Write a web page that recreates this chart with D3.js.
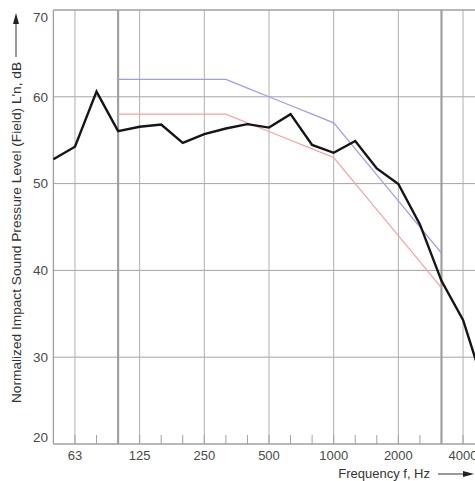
<!DOCTYPE html>
<html>
<head>
<meta charset="utf-8">
<script src="https://cdn.jsdelivr.net/npm/d3@7"></script>
<style>
  body { margin: 0; background: #fff; }
  text { font-family: "Liberation Sans", Arial, sans-serif; }
</style>
</head>
<body>
<div id="chart"></div>
<script>
// one-third octave bands
const bands = ["50","63","80","100","125","160","200","250","315","400","500","630","800",
               "1000","1250","1600","2000","2500","3150","4000","5000"];
// measured L'n values (black)
const measured = [52.8, 54.25, 60.6, 56.05, 56.55, 56.8, 54.7, 55.7, 56.35, 56.85, 56.45,
                  58.0, 54.45, 53.55, 54.9, 51.75, 49.95, 45.3, 38.8, 34.3, 26.5];
// reference curve bands (100..3150)
const refBands = ["100","125","160","200","250","315","400","500","630","800",
                  "1000","1250","1600","2000","2500","3150"];
const refBlue = [62, 62, 62, 62, 62, 62, 61, 60, 59, 58, 57, 54, 51, 48, 45, 42];
const refRed  = [58, 58, 58, 58, 58, 58, 57, 56, 55, 54, 53, 50, 47, 44, 41, 38];

const gridBands = ["63","100","125","250","500","1000","2000","3150","4000"];
const thickBands = ["100","3150"];
const xLabels = ["63","125","250","500","1000","2000","4000"];
const yTicks = [20, 30, 40, 50, 60, 70];

const width = 475, height = 481;
const plotLeft = 53.4, plotTop = 10, plotBottom = 444;

const svg = d3.select("#chart").append("svg")
  .attr("width", width)
  .attr("height", height);

const x = d3.scalePoint()
  .domain(bands)
  .range([plotLeft, plotLeft + 20 * 21.56]);

const y = d3.scaleLinear()
  .domain([20, 70])
  .range([plotBottom, plotTop]);

// horizontal grid
svg.append("g")
  .selectAll("line")
  .data(yTicks.filter(d => d > 20 && d < 70))
  .join("line")
    .attr("x1", plotLeft).attr("x2", width)
    .attr("y1", d => y(d)).attr("y2", d => y(d))
    .attr("stroke", "#a4a4a4")
    .attr("stroke-width", 1);

// vertical grid
svg.append("g")
  .selectAll("line")
  .data(gridBands)
  .join("line")
    .attr("x1", d => x(d)).attr("x2", d => x(d))
    .attr("y1", plotTop).attr("y2", plotBottom)
    .attr("stroke", d => thickBands.includes(d) ? "#a0a0a0" : "#b0b0b0")
    .attr("stroke-width", d => thickBands.includes(d) ? 2.2 : 1);

// minor ticks along bottom
svg.append("g")
  .selectAll("line")
  .data(bands.slice(1))
  .join("line")
    .attr("x1", d => x(d)).attr("x2", d => x(d))
    .attr("y1", plotBottom - 9).attr("y2", plotBottom)
    .attr("stroke", "#a0a0a0")
    .attr("stroke-width", 1);

// frame
svg.append("line")
  .attr("x1", plotLeft).attr("x2", width)
  .attr("y1", plotTop).attr("y2", plotTop)
  .attr("stroke", "#a0a0a0").attr("stroke-width", 1.3);
svg.append("line")
  .attr("x1", plotLeft).attr("x2", width)
  .attr("y1", plotBottom).attr("y2", plotBottom)
  .attr("stroke", "#a0a0a0").attr("stroke-width", 1.3);
svg.append("line")
  .attr("x1", plotLeft).attr("x2", plotLeft)
  .attr("y1", plotTop).attr("y2", plotBottom)
  .attr("stroke", "#a0a0a0").attr("stroke-width", 1.3);

// y tick labels (end labels nudged inside like the original)
svg.append("g")
  .selectAll("text")
  .data(yTicks)
  .join("text")
    .attr("x", 48)
    .attr("y", d => y(d) + (d === 70 ? 7 : d === 20 ? -7 : 0))
    .attr("dy", "0.35em")
    .attr("text-anchor", "end")
    .attr("font-size", 13.5)
    .attr("fill", "#4a4a4a")
    .text(d => d);

// x tick labels
svg.append("g")
  .selectAll("text")
  .data(xLabels)
  .join("text")
    .attr("x", d => x(d))
    .attr("y", 460)
    .attr("text-anchor", "middle")
    .attr("font-size", 13)
    .attr("fill", "#4a4a4a")
    .text(d => d);

const line = d3.line()
  .x(d => x(d[0]))
  .y(d => y(d[1]));

svg.append("path")
  .datum(d3.zip(refBands, refBlue))
  .attr("fill", "none")
  .attr("stroke", "#9c9cee")
  .attr("stroke-width", 1.2)
  .attr("d", line);

svg.append("path")
  .datum(d3.zip(refBands, refRed))
  .attr("fill", "none")
  .attr("stroke", "#f2a4a4")
  .attr("stroke-width", 1.2)
  .attr("d", line);

svg.append("path")
  .datum(d3.zip(bands, measured))
  .attr("fill", "none")
  .attr("stroke", "#151515")
  .attr("stroke-width", 2.4)
  .attr("stroke-linejoin", "miter")
  .attr("d", line);

// axis titles with arrows
svg.append("text")
  .attr("transform", "translate(21,232.5) rotate(-90)")
  .attr("text-anchor", "middle")
  .attr("font-size", 13.7)
  .attr("fill", "#333")
  .text("Normalized Impact Sound Pressure Level (Field) L'n, dB");

svg.append("line")
  .attr("x1", 16).attr("x2", 16)
  .attr("y1", 57).attr("y2", 22)
  .attr("stroke", "#333").attr("stroke-width", 1);
svg.append("path")
  .attr("d", "M16,13 L13,24 L19,24 Z")
  .attr("fill", "#222");

svg.append("text")
  .attr("x", 430)
  .attr("y", 478)
  .attr("text-anchor", "end")
  .attr("font-size", 13)
  .attr("fill", "#333")
  .text("Frequency f, Hz");

svg.append("line")
  .attr("x1", 438).attr("x2", 464)
  .attr("y1", 474).attr("y2", 474)
  .attr("stroke", "#333").attr("stroke-width", 1);
svg.append("path")
  .attr("d", "M474,474 L463,471 L463,477 Z")
  .attr("fill", "#222");
</script>
</body>
</html>
